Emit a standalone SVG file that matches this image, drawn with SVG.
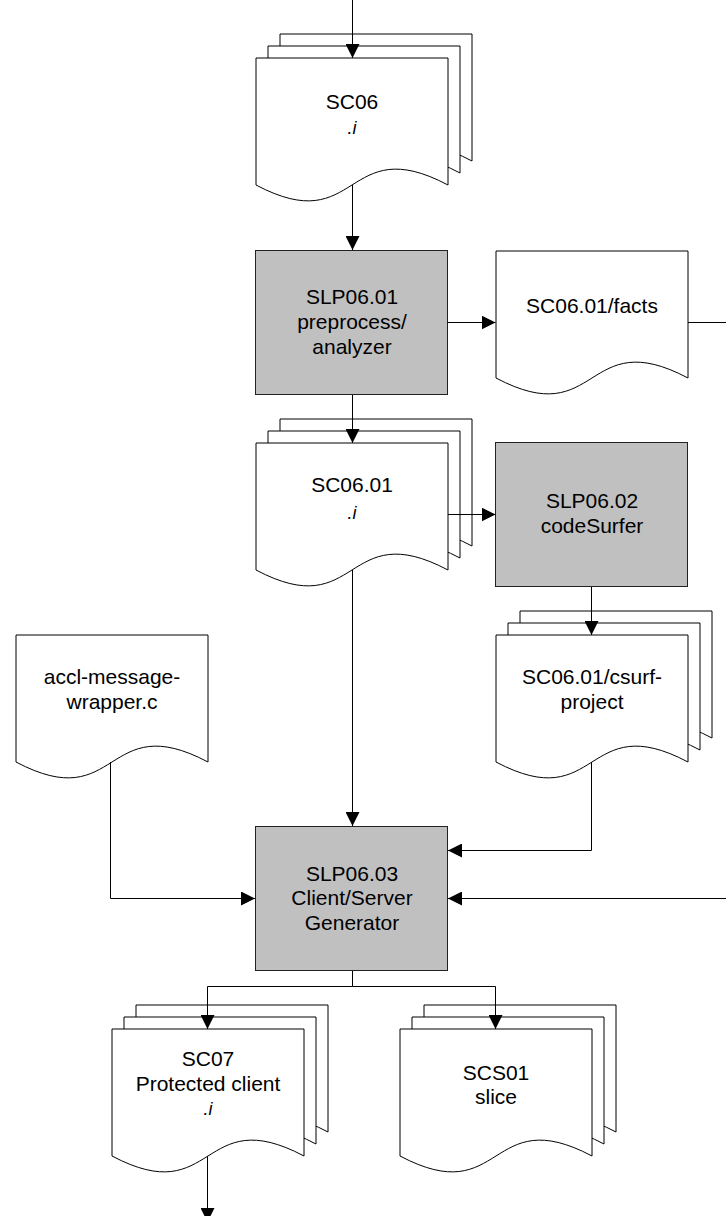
<svg xmlns="http://www.w3.org/2000/svg" width="726" height="1216" viewBox="0 0 726 1216">
<style>
.doc{fill:#fff;stroke:#000;stroke-width:1}
.box{fill:#c0c0c0;stroke:#222;stroke-width:1}
.t{font-family:"Liberation Sans",Arial,sans-serif;font-size:21px;fill:#000;text-anchor:middle}
.s{font-family:"Liberation Sans",Arial,sans-serif;font-size:18px;font-style:italic;fill:#000;text-anchor:middle}
.c{fill:none;stroke:#000;stroke-width:1}
</style>
<defs>
<marker id="ah" markerUnits="userSpaceOnUse" markerWidth="14" markerHeight="14" refX="14" refY="7" orient="auto">
<path d="M0,0 L14,7 L0,14 Z" fill="#000"/>
</marker>
<path id="d" d="M0,0 H192 V127 C88,72 104,182 0,127 Z"/>
</defs>
<g id="SC06">
<use href="#d" class="doc" x="280" y="34"/>
<use href="#d" class="doc" x="268" y="46"/>
<use href="#d" class="doc" x="256" y="58"/>
<text class="t" x="352" y="109">SC06</text>
<text class="s" x="352" y="134">.i</text>
</g>
<g id="SLP06.01">
<rect class="box" x="255.5" y="250.5" width="192" height="144"/>
<text class="t" x="352" y="304">SLP06.01</text>
<text class="t" x="352" y="329">preprocess/</text>
<text class="t" x="352" y="354">analyzer</text>
</g>
<g id="SC06.01_facts">
<use href="#d" class="doc" x="496" y="251"/>
<text class="t" x="592" y="313">SC06.01/facts</text>
</g>
<g id="SC06.01">
<use href="#d" class="doc" x="280" y="419"/>
<use href="#d" class="doc" x="268" y="431"/>
<use href="#d" class="doc" x="256" y="443"/>
<text class="t" x="352" y="492">SC06.01</text>
<text class="s" x="352" y="519">.i</text>
</g>
<g id="SLP06.02">
<rect class="box" x="495.5" y="442.5" width="192" height="144"/>
<text class="t" x="592" y="508">SLP06.02</text>
<text class="t" x="592" y="533">codeSurfer</text>
</g>
<g id="accl">
<use href="#d" class="doc" x="16" y="635"/>
<text class="t" x="112" y="684">accl-message-</text>
<text class="t" x="112" y="709">wrapper.c</text>
</g>
<g id="csurf">
<use href="#d" class="doc" x="520" y="611"/>
<use href="#d" class="doc" x="508" y="623"/>
<use href="#d" class="doc" x="496" y="635"/>
<text class="t" x="592" y="684">SC06.01/csurf-</text>
<text class="t" x="592" y="709">project</text>
</g>
<g id="SLP06.03">
<rect class="box" x="255.5" y="826.5" width="192" height="144"/>
<text class="t" x="352" y="881">SLP06.03</text>
<text class="t" x="352" y="905">Client/Server</text>
<text class="t" x="352" y="930">Generator</text>
</g>
<g id="SC07">
<use href="#d" class="doc" x="136" y="1005"/>
<use href="#d" class="doc" x="124" y="1017"/>
<use href="#d" class="doc" x="112" y="1029"/>
<text class="t" x="208" y="1066">SC07</text>
<text class="t" x="208" y="1091">Protected client</text>
<text class="s" x="208" y="1115">.i</text>
</g>
<g id="SCS01">
<use href="#d" class="doc" x="424" y="1005"/>
<use href="#d" class="doc" x="412" y="1017"/>
<use href="#d" class="doc" x="400" y="1029"/>
<text class="t" x="496" y="1080">SCS01</text>
<text class="t" x="496" y="1104">slice</text>
</g>
<g id="connectors">
<path class="c" marker-end="url(#ah)" d="M352.5,0 V58"/>
<path class="c" marker-end="url(#ah)" d="M352.5,185 V250"/>
<path class="c" marker-end="url(#ah)" d="M447.5,322.5 H495.5"/>
<path class="c" marker-end="url(#ah)" d="M688,322.5 H740 V898.5 H448"/>
<path class="c" marker-end="url(#ah)" d="M352.5,395 V443"/>
<path class="c" marker-end="url(#ah)" d="M448,514.5 H495.5"/>
<path class="c" marker-end="url(#ah)" d="M591.5,587 V635"/>
<path class="c" marker-end="url(#ah)" d="M352.5,570 V826"/>
<path class="c" marker-end="url(#ah)" d="M591.5,762 V850.5 H448"/>
<path class="c" marker-end="url(#ah)" d="M110.5,762 V898.5 H255"/>
<path class="c" marker-end="url(#ah)" d="M352.5,971 V986.5 H207.5 V1029"/>
<path class="c" marker-end="url(#ah)" d="M352.5,986.5 H495.5 V1029"/>
<path class="c" marker-end="url(#ah)" d="M207.5,1156 V1222"/>
</g>
</svg>
